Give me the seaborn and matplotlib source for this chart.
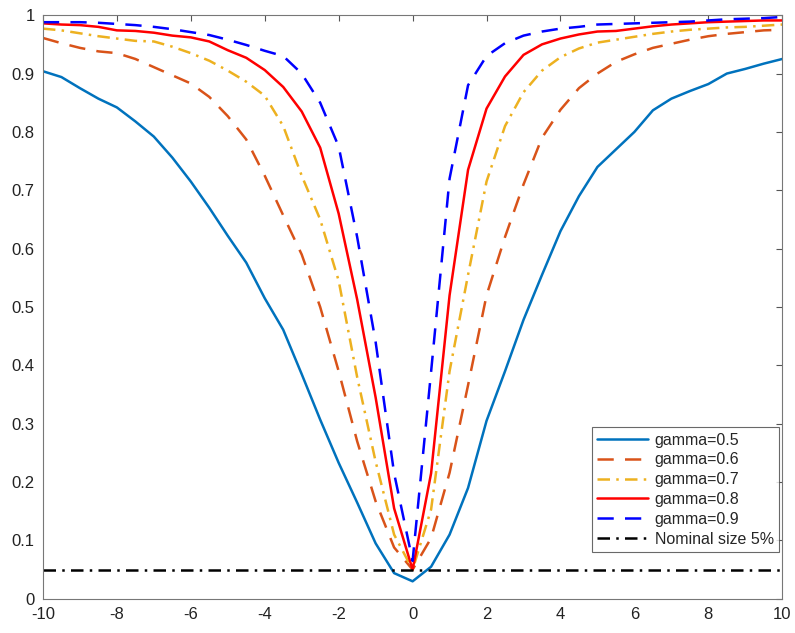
import numpy as np
import pandas as pd
import matplotlib
matplotlib.use("Agg")
import matplotlib.pyplot as plt
from matplotlib.ticker import FuncFormatter
import seaborn as sns

# grid of shift values (x axis)
shift = [-10, -9.5, -9, -8.5, -8, -7.5, -7, -6.5, -6, -5.5, -5, -4.5, -4, -3.5,
         -3, -2.5, -2, -1.5, -1, -0.5, 0, 0.5, 1, 1.5, 2, 2.5, 3, 3.5, 4, 4.5,
         5, 5.5, 6, 6.5, 7, 7.5, 8, 8.5, 9, 9.5, 10]

power_05 = [0.904, 0.894, 0.875, 0.857, 0.842, 0.818, 0.792, 0.756, 0.715, 0.670,
            0.622, 0.576, 0.515, 0.461, 0.385, 0.307, 0.233, 0.165, 0.095, 0.044,
            0.030,
            0.055, 0.110, 0.190, 0.305, 0.390, 0.478, 0.555, 0.630, 0.690, 0.740,
            0.770, 0.800, 0.837, 0.857, 0.870, 0.882, 0.900, 0.908, 0.917, 0.925]
power_06 = [0.961, 0.952, 0.944, 0.938, 0.935, 0.925, 0.911, 0.897, 0.883, 0.860,
            0.827, 0.787, 0.725, 0.657, 0.590, 0.500, 0.390, 0.270, 0.167, 0.088,
            0.050,
            0.104, 0.216, 0.366, 0.520, 0.620, 0.710, 0.790, 0.838, 0.875, 0.900,
            0.920, 0.933, 0.944, 0.951, 0.958, 0.964, 0.968, 0.971, 0.974, 0.975]
power_07 = [0.977, 0.974, 0.969, 0.964, 0.960, 0.956, 0.955, 0.946, 0.935, 0.922,
            0.905, 0.886, 0.862, 0.810, 0.725, 0.650, 0.545, 0.380, 0.235, 0.110,
            0.050,
            0.153, 0.390, 0.555, 0.715, 0.810, 0.868, 0.905, 0.928, 0.943, 0.953,
            0.958, 0.963, 0.968, 0.972, 0.975, 0.977, 0.979, 0.980, 0.982, 0.984]
power_08 = [0.986, 0.984, 0.983, 0.980, 0.974, 0.973, 0.970, 0.965, 0.962, 0.955,
            0.940, 0.927, 0.906, 0.877, 0.835, 0.773, 0.660, 0.513, 0.345, 0.155,
            0.050,
            0.215, 0.520, 0.735, 0.840, 0.895, 0.932, 0.950, 0.960, 0.967, 0.972,
            0.973, 0.977, 0.981, 0.984, 0.986, 0.988, 0.989, 0.990, 0.991, 0.991]
power_09 = [0.988, 0.988, 0.988, 0.987, 0.985, 0.983, 0.980, 0.976, 0.971, 0.966,
            0.958, 0.949, 0.939, 0.930, 0.900, 0.850, 0.775, 0.620, 0.440, 0.215,
            0.065,
            0.389, 0.720, 0.880, 0.930, 0.952, 0.965, 0.972, 0.977, 0.980, 0.984,
            0.985, 0.986, 0.987, 0.988, 0.989, 0.991, 0.993, 0.994, 0.995, 0.997]

gammas = ["gamma=0.5", "gamma=0.6", "gamma=0.7", "gamma=0.8", "gamma=0.9"]
nominal_size = 0.05

# MATLAB-like colours and line styles
colors = ["#0072BD", "#D95319", "#EDB120", "#FF0000", "#0000FF"]
dash = (0, (6.5, 4.5))
dashdot = (0, (5, 2.5, 1, 2.5))
styles = ["-", dash, dashdot, "-", dash]

df = pd.DataFrame({
    "shift": shift * 5,
    "power": power_05 + power_06 + power_07 + power_08 + power_09,
    "gamma": np.repeat(gammas, len(shift)),
})

sns.set_theme(style="white")
plt.rcParams["font.family"] = ["Liberation Sans", "DejaVu Sans"]

fig = plt.figure(figsize=(7.95, 6.33), dpi=100)
ax = fig.add_axes([0.054, 0.054, 0.930, 0.922])

for g, c, ls in zip(gammas, colors, styles):
    sns.lineplot(data=df[df["gamma"] == g], x="shift", y="power", color=c,
                 linestyle=ls, linewidth=1.8, label=g, ax=ax)

ax.axhline(nominal_size, color="black", linestyle=dashdot,
           linewidth=1.8, label="Nominal size 5%")

ax.set_xlim(-10, 10)
ax.set_ylim(0, 1)
ax.set_xticks(np.arange(-10, 11, 2))
ax.set_yticks(np.arange(0, 1.01, 0.1))
ax.yaxis.set_major_formatter(FuncFormatter(lambda v, p: f"{v:g}"))
ax.xaxis.set_major_formatter(FuncFormatter(lambda v, p: f"{v:g}"))
ax.set_xlabel("")
ax.set_ylabel("")
ax.tick_params(direction="in", top=True, right=True, length=4, width=0.8,
               color="#555555", labelsize=12, labelcolor="#222222", pad=6)
for s in ax.spines.values():
    s.set_color("#777777")
    s.set_linewidth(0.8)

leg = ax.legend(loc="lower right", bbox_to_anchor=(0.996, 0.08),
                borderaxespad=0, fontsize=11.5, frameon=True, fancybox=False,
                handlelength=3.2, handletextpad=0.4, labelspacing=0.3,
                borderpad=0.35)
leg.get_frame().set_edgecolor("#444444")
leg.get_frame().set_linewidth(0.8)

plt.savefig("out.png", dpi=100)
